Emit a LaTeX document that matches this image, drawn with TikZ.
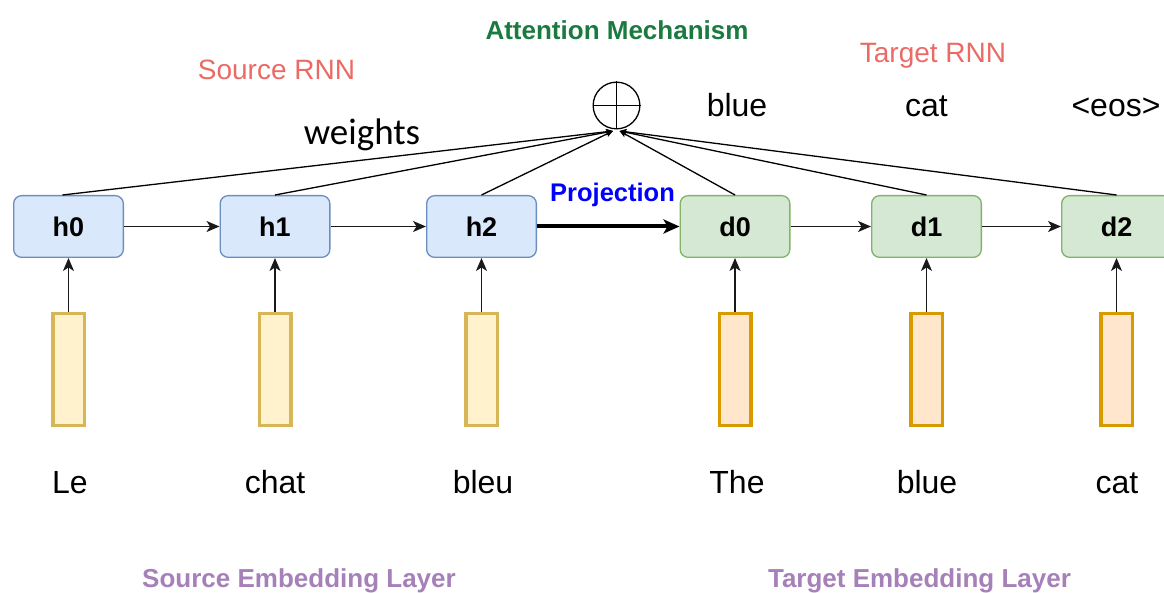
\documentclass[tikz,border=0pt]{standalone}
\usepackage{fontspec}
\setmainfont{Liberation Sans}
\newfontfamily\calibfont{Carlito}
\usetikzlibrary{arrows.meta}
\definecolor{hfill}{HTML}{DAE8FC}
\definecolor{hdraw}{HTML}{6C8EBF}
\definecolor{dfill}{HTML}{D5E8D4}
\definecolor{ddraw}{HTML}{82B366}
\definecolor{sfill}{HTML}{FFF2CC}
\definecolor{sdraw}{HTML}{D6B656}
\definecolor{tfill}{HTML}{FFE6CC}
\definecolor{tdraw}{HTML}{D79B00}
\definecolor{rnncol}{HTML}{EA6B66}
\definecolor{attcol}{HTML}{1A7A40}
\definecolor{projcol}{HTML}{0000FF}
\definecolor{embcol}{HTML}{A680B8}
\newcommand\mysize[1]{\fontsize{#1}{#1}\selectfont}
\begin{document}
\begin{tikzpicture}[x=1pt,y=-1pt,
  rnnbox/.style={rounded corners=8pt, minimum width=109.7pt, minimum height=61.7pt,
    line width=1.3pt, inner sep=0pt, font=\mysize{27}\bfseries},
  hbox/.style={rnnbox, fill=hfill, draw=hdraw},
  dbox/.style={rnnbox, fill=dfill, draw=ddraw},
  emb/.style={minimum width=31.5pt, minimum height=111.5pt, line width=3.5pt, inner sep=0pt},
  semb/.style={emb, fill=sfill, draw=sdraw},
  temb/.style={emb, fill=tfill, draw=tdraw},
  word/.style={anchor=base, inner sep=0pt, font=\mysize{32}},
  lbl/.style={anchor=base, inner sep=0pt},
  conn/.style={line width=1.5pt, draw=black!90, -{Stealth[length=13pt,width=11pt,inset=3.5pt]}},
  thick conn/.style={line width=4pt, draw=black, -{Stealth[length=16pt,width=14pt,inset=4pt]}},
  att/.style={line width=1.3pt, draw=black, -{Stealth[length=7pt,width=6pt,inset=1.5pt]}}
]
\useasboundingbox (0,0) rectangle (1164,593);

% RNN boxes
\node[hbox] (h0) at (68.5,226.5) {h0};
\node[hbox] (h1) at (275,226.5) {h1};
\node[hbox] (h2) at (481.5,226.5) {h2};
\node[dbox] (d0) at (735,226.5) {d0};
\node[dbox] (d1) at (926.5,226.5) {d1};
\node[dbox] (d2) at (1116.5,226.5) {d2};

% embeddings
\node[semb] (e0) at (68.5,369.5) {};
\node[semb] (e1) at (275,369.5) {};
\node[semb] (e2) at (481.5,369.5) {};
\node[temb] (f0) at (735,369.5) {};
\node[temb] (f1) at (926.5,369.5) {};
\node[temb] (f2) at (1116.5,369.5) {};

% words
\node[word] (w0) at (70,493) {Le};
\node[word] (w1) at (275,493) {chat};
\node[word] (w2) at (483,493) {bleu};
\node[word] (w3) at (737,493) {The};
\node[word] (w4) at (927,493) {blue};
\node[word] (w5) at (1117,493) {cat};

\node[word] (o0) at (737,117) {blue};
\node[word] (o1) at (926.5,117) {cat};
\node[word] (o2) at (1116,117) {<eos>};

% labels
\node[lbl, font=\mysize{28}, text=rnncol] (srnn) at (276.5,80) {Source RNN};
\node[lbl, font=\mysize{28}, text=rnncol] (trnn) at (933,63) {Target RNN};
\node[lbl, font=\mysize{26}\bfseries, text=attcol] (attn) at (617,40) {Attention Mechanism};
\node[lbl, font=\mysize{25.5}\bfseries, text=projcol] (proj) at (612.5,202) {Projection};
\node[lbl, font=\calibfont\mysize{37}] (wts) at (362,145) {weights};
\node[lbl, font=\mysize{26}\bfseries, text=embcol] (sel) at (299,587) {Source Embedding Layer};
\node[lbl, font=\mysize{26}\bfseries, text=embcol] (tel) at (919.5,587) {Target Embedding Layer};

% attention circle
\node[circle, draw, line width=1.3pt, minimum size=46.7pt, inner sep=0pt] (circ) at (616.5,105.5) {};
\draw[line width=1.3pt] (circ.north) -- (circ.south);
\draw[line width=1.3pt] (circ.west) -- (circ.east);
\coordinate (cl) at (613,131);
\coordinate (cr) at (619.5,131);

% recurrent connections
\draw[conn] (h0) -- (h1);
\draw[conn] (h1) -- (h2);
\draw[thick conn] (h2) -- (d0);
\draw[conn] (d0) -- (d1);
\draw[conn] (d1) -- (d2);

% embedding inputs
\draw[conn] (e0) -- (h0);
\draw[conn] (e1) -- (h1);
\draw[conn] (e2) -- (h2);
\draw[conn] (f0) -- (d0);
\draw[conn] (f1) -- (d1);
\draw[conn] (f2) -- (d2);

% attention lines
\draw[att] ([xshift=-6pt]h0.north) -- (cl);
\draw[att] (h1.north) -- (cl);
\draw[att] (h2.north) -- (cl);
\draw[att] (d0.north) -- (cr);
\draw[att] (d1.north) -- (cr);
\draw[att] (d2.north) -- (cr);
\end{tikzpicture}
\end{document}
